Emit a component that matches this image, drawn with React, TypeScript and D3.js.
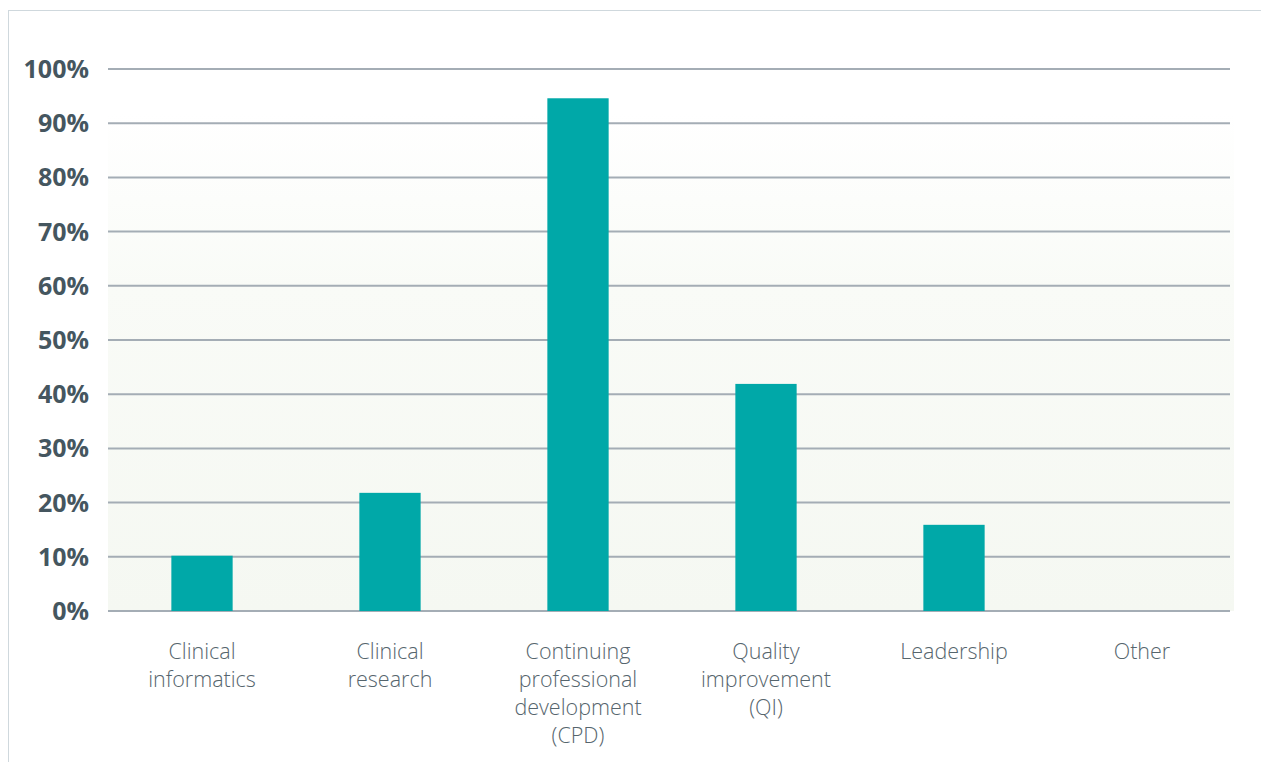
import React from "react";
import * as d3 from "d3";

const categories: string[][] = [
  ["Clinical", "informatics"],
  ["Clinical", "research"],
  ["Continuing", "professional", "development", "(CPD)"],
  ["Quality", "improvement", "(QI)"],
  ["Leadership"],
  ["Other"],
];
const values: number[] = [10.2, 21.8, 94.6, 41.9, 15.9, 0];
const yTicks: number[] = [0, 10, 20, 30, 40, 50, 60, 70, 80, 90, 100];

const W = 1261;
const H = 762;
const left = 108;
const right = 1230;
const bandRight = 1236;
const top = 69;
const bottom = 611;

export default function App() {
  const x = d3
    .scaleBand<number>()
    .domain(values.map((_, i) => i))
    .range([left, bandRight])
    .paddingInner(0.674)
    .paddingOuter(0.337);
  const y = d3.scaleLinear().domain([0, 100]).range([bottom, top]);

  return (
    <svg
      width={W}
      height={H}
      style={{ position: "absolute", left: 0, top: 0, display: "block" }}
    >
      <defs>
        <linearGradient id="bg" x1="0" y1="0" x2="0" y2="1">
          <stop offset="0" stopColor="#ffffff" />
          <stop offset="0.35" stopColor="#f9fbf7" />
          <stop offset="1" stopColor="#f5f8f2" />
        </linearGradient>
      </defs>
      <rect x={0} y={0} width={W} height={H} fill="#ffffff" />
      <line x1={8.5} y1={10} x2={8.5} y2={H} stroke="#cfd8dd" strokeWidth={1} />
      <line x1={8} y1={10.5} x2={W} y2={10.5} stroke="#cfd8dd" strokeWidth={1} />
      <rect
        x={left}
        y={y(92)}
        width={1234 - left}
        height={bottom - y(92)}
        fill="url(#bg)"
      />
      {yTicks.map((t) => (
        <g key={t}>
          <line
            x1={left}
            x2={right}
            y1={y(t)}
            y2={y(t)}
            stroke="#a4adb5"
            strokeWidth={2}
          />
          <text
            x={89}
            y={y(t)}
            dy="0.36em"
            textAnchor="end"
            fontFamily="'Open Sans', sans-serif"
            fontWeight={700}
            fontSize={25}
            fill="#45565f"
          >
            {t}%
          </text>
        </g>
      ))}
      {values.map((v, i) =>
        v > 0 ? (
          <rect
            key={i}
            x={x(i)}
            y={y(v)}
            width={x.bandwidth()}
            height={y(0) - y(v)}
            fill="#00a8a8"
          />
        ) : null
      )}
      {categories.map((lines, i) => (
        <text
          key={i}
          x={(x(i) as number) + x.bandwidth() / 2}
          y={659}
          textAnchor="middle"
          fontFamily="'Open Sans', sans-serif"
          fontWeight={300}
          fontSize={21.5}
          fill="#56656d"
        >
          {lines.map((l, j) => (
            <tspan key={j} x={(x(i) as number) + x.bandwidth() / 2} dy={j === 0 ? 0 : 28}>
              {l}
            </tspan>
          ))}
        </text>
      ))}
    </svg>
  );
}
